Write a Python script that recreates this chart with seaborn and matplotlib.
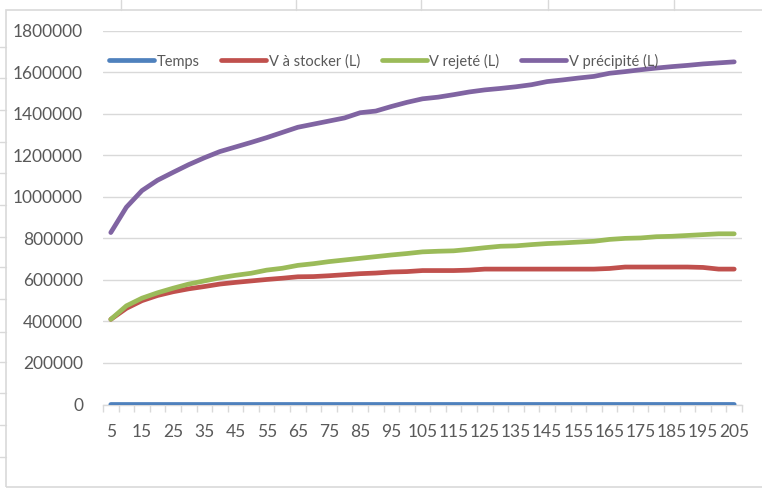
import matplotlib
matplotlib.use("Agg")
import matplotlib.pyplot as plt
from matplotlib.lines import Line2D
from matplotlib.patches import Rectangle
import numpy as np
import pandas as pd
import seaborn as sns

# Duration (min) of each rainfall event
temps = list(range(5, 210, 5))

# Volumes in litres
v_stocker = [410000, 463000, 500000, 525000, 543000, 557000, 568000, 580000, 588000, 595000,
             602000, 608000, 615000, 616000, 620000, 625000, 630000, 633000, 638000, 640000,
             645000, 645000, 645000, 647000, 652000, 652000, 652000, 652000, 652000, 652000,
             652000, 652000, 655000, 662000, 662000, 662000, 662000, 662000, 660000, 652000,
             652000]
v_rejete = [410000, 475000, 512000, 538000, 560000, 580000, 595000, 610000, 622000, 632000,
            647000, 656000, 670000, 678000, 688000, 696000, 704000, 712000, 720000, 727000,
            735000, 738000, 740000, 747000, 755000, 762000, 764000, 770000, 775000, 778000,
            782000, 786000, 795000, 800000, 802000, 808000, 810000, 814000, 818000, 822000,
            822000]
v_precipite = [828000, 950000, 1030000, 1080000, 1118000, 1155000, 1188000, 1218000, 1240000, 1262000,
               1285000, 1310000, 1335000, 1350000, 1365000, 1380000, 1405000, 1413000, 1435000, 1455000,
               1472000, 1480000, 1492000, 1505000, 1515000, 1522000, 1530000, 1540000, 1555000, 1563000,
               1572000, 1580000, 1595000, 1603000, 1612000, 1620000, 1627000, 1633000, 1640000, 1645000,
               1650000]

series_names = ["Temps", "V à stocker (L)", "V rejeté (L)", "V précipité (L)"]
series_values = [temps, v_stocker, v_rejete, v_precipite]
colors = ["#4F81BD", "#C0504D", "#9BBB59", "#8064A2"]

y_ticks = list(range(0, 1800001, 200000))
x_labels = temps[::2]

df = pd.concat(
    [pd.DataFrame({"t": temps, "v": vals, "serie": name})
     for name, vals in zip(series_names, series_values)],
    ignore_index=True,
)

sns.set_theme(style="white")
plt.rcParams["font.family"] = ["Lato", "DejaVu Sans"]

W, H = 762, 495
fig = plt.figure(figsize=(W / 100, H / 100), dpi=100)
fig.patch.set_facecolor("white")

left_px, right_px, top_px, bottom_px = 103, 742, 30.7, 404.5
ax = fig.add_axes([left_px / W, 1 - bottom_px / H,
                   (right_px - left_px) / W, (bottom_px - top_px) / H])

sns.lineplot(data=df, x="t", y="v", hue="serie", hue_order=series_names,
             palette=colors, linewidth=3.4, ax=ax, legend=False,
             solid_capstyle="round", zorder=3)

ax.set_xlim(2.5, 207.5)
ax.set_ylim(0, 1800000)
ax.set_yticks(y_ticks)
ax.set_yticklabels([str(v) for v in y_ticks])
ax.set_xticks(x_labels)
ax.set_xticklabels([str(v) for v in x_labels])
ax.set_xticks(np.arange(2.5, 208, 5), minor=True)
ax.set_xlabel("")
ax.set_ylabel("")

for s in ["top", "right", "left"]:
    ax.spines[s].set_visible(False)
ax.spines["bottom"].set_color("#D9D9D9")
ax.spines["bottom"].set_linewidth(1)

ax.yaxis.grid(True, color="#D9D9D9", linewidth=1)
ax.xaxis.grid(False)
ax.set_axisbelow(True)

ax.tick_params(axis="y", which="both", length=0, pad=14.4, labelsize=12.5, labelcolor="#595959")
ax.tick_params(axis="x", which="major", length=0, pad=14, labelsize=12.5, labelcolor="#595959")
ax.tick_params(axis="x", which="minor", length=5, width=1, color="#D9D9D9", bottom=True)

handles = [Line2D([0], [0], color=c, linewidth=3.4, solid_capstyle="round") for c in colors]
leg = fig.legend(handles, series_names, loc="center left",
                 bbox_to_anchor=(109 / W, 1 - 61 / H), ncol=4, frameon=False,
                 fontsize=10.5, handlelength=3.1, handletextpad=0.15,
                 columnspacing=1.5, borderpad=0, borderaxespad=0)
for t in leg.get_texts():
    t.set_color("#595959")

# Chart area frame and surrounding sheet cells
fig.add_artist(Rectangle((6 / W, 1 - 487 / H), 1, (487 - 9.5) / H,
                         transform=fig.transFigure, fill=False,
                         edgecolor="#D9D9D9", linewidth=1.2))
for x in [121, 296, 421, 548, 674]:
    fig.add_artist(Line2D([x / W, x / W], [1, 1 - 9.5 / H],
                          transform=fig.transFigure, color="#D9D9D9", linewidth=1))
for y in [47, 78, 110, 142, 173, 205, 237, 267, 299, 332, 362, 393, 425, 457]:
    fig.add_artist(Line2D([0, 6 / W], [1 - y / H, 1 - y / H],
                          transform=fig.transFigure, color="#D9D9D9", linewidth=1))

fig.savefig("out.png", dpi=100)
